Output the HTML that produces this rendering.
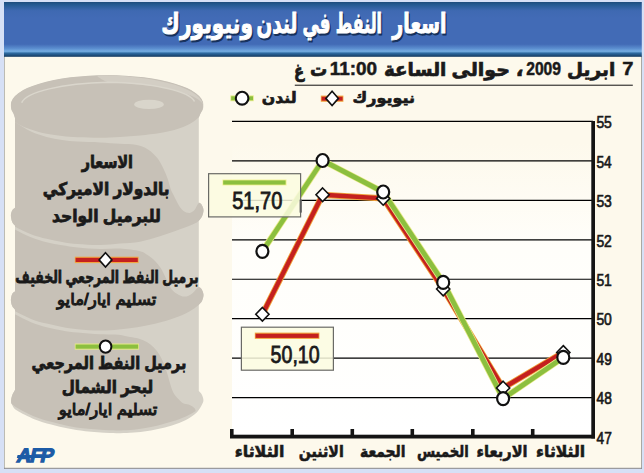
<!DOCTYPE html>
<html lang="ar">
<head>
<meta charset="utf-8">
<title>اسعار النفط في لندن ونيويورك</title>
<style>
html,body{margin:0;padding:0;background:#d6e0f6;}
body{width:644px;height:473px;overflow:hidden;position:relative;}
svg{position:absolute;left:0;top:0;display:block;}
.ar{font-family:"Liberation Sans","DejaVu Sans",sans-serif;font-weight:bold;}
.arn{font-family:"Liberation Sans","DejaVu Sans",sans-serif;font-weight:normal;}
.num{font-family:"Liberation Sans",sans-serif;}
</style>
</head>
<body>
<svg width="644" height="473" viewBox="0 0 644 473">
<defs>
<linearGradient id="hdr" x1="0" y1="0" x2="0" y2="1">
<stop offset="0" stop-color="#1d4c7c"/>
<stop offset="0.05" stop-color="#245a92"/>
<stop offset="0.16" stop-color="#3f69b2"/>
<stop offset="0.3" stop-color="#426bb6"/>
<stop offset="0.77" stop-color="#426bb6"/>
<stop offset="0.85" stop-color="#5c8fd0"/>
<stop offset="0.9" stop-color="#76aee2"/>
<stop offset="0.935" stop-color="#2e6aa0"/>
<stop offset="1" stop-color="#143a60"/>
</linearGradient>
<linearGradient id="plot" x1="0" y1="0" x2="0" y2="1">
<stop offset="0" stop-color="#fdf9ec"/>
<stop offset="0.07" stop-color="#fdf9ec"/>
<stop offset="0.4" stop-color="#fffefa"/>
<stop offset="1" stop-color="#ffffff"/>
</linearGradient>
</defs>
<!-- page -->
<rect x="0" y="0" width="644" height="473" fill="#d6e0f6"/>
<rect x="4" y="56" width="638" height="412.8" fill="#fdf9ec"/>
<rect x="4" y="56" width="0.9" height="412.8" fill="#b4b4ae"/>
<rect x="641.1" y="56" width="0.9" height="412.8" fill="#a0a09c"/>
<rect x="4" y="467.8" width="638" height="1" fill="#85858a"/>
<rect x="4" y="2" width="637.8" height="54.8" fill="url(#hdr)"/>
<!-- SECTION:title -->
<!-- BEGIN:title -->
<text transform="translate(393.50 34.60) scale(0.684 1)" class="ar" font-size="28" fill="#16305a" stroke="#16305a" stroke-width="1.0">اسعار</text>
<text transform="translate(336.95 34.60) scale(0.567 1)" class="ar" font-size="28" fill="#16305a" stroke="#16305a" stroke-width="1.0">النفط</text>
<text transform="translate(303.65 34.60) scale(0.603 1)" class="ar" font-size="28" fill="#16305a" stroke="#16305a" stroke-width="1.0">في</text>
<text transform="translate(257.78 34.60) scale(0.658 1)" class="ar" font-size="28" fill="#16305a" stroke="#16305a" stroke-width="1.0">لندن</text>
<text transform="translate(162.51 34.60) scale(0.724 1)" class="ar" font-size="28" fill="#16305a" stroke="#16305a" stroke-width="1.0">ونيويورك</text>
<text transform="translate(392.30 33.3) scale(0.684 1)" class="ar" font-size="28" fill="#fff" stroke="#fff" stroke-width="1.0">اسعار</text>
<text transform="translate(335.75 33.3) scale(0.567 1)" class="ar" font-size="28" fill="#fff" stroke="#fff" stroke-width="1.0">النفط</text>
<text transform="translate(302.45 33.3) scale(0.603 1)" class="ar" font-size="28" fill="#fff" stroke="#fff" stroke-width="1.0">في</text>
<text transform="translate(256.58 33.3) scale(0.658 1)" class="ar" font-size="28" fill="#fff" stroke="#fff" stroke-width="1.0">لندن</text>
<text transform="translate(161.31 33.3) scale(0.724 1)" class="ar" font-size="28" fill="#fff" stroke="#fff" stroke-width="1.0">ونيويورك</text>
<!-- END:title -->
<!-- SECTION:barrel -->
<g id="barrel">
<clipPath id="bclip"><path d="M10.9,104.4 A96.2,29.3 0 0 1 203.3,104.4 C203.2,105.2 203.5,107.5 203.0,109.0 C202.5,110.5 201.2,112.0 200.5,113.5 C199.8,115.0 199.1,117.2 198.8,118.0 L198.8,202.5 C199.2,202.8 200.7,203.2 201.5,204.5 C202.3,205.8 203.4,208.0 203.5,210.0 C203.6,212.0 202.8,214.7 202.0,216.5 C201.2,218.3 199.3,220.2 198.8,221.0 L198.8,287.0 C199.2,287.3 200.7,287.7 201.5,289.0 C202.3,290.3 203.4,292.7 203.5,294.7 C203.6,296.7 202.8,299.3 202.0,301.0 C201.2,302.7 199.3,304.3 198.8,305.0 L198.8,391.0 C199.2,391.5 200.7,392.6 201.5,394.0 C202.3,395.4 203.3,397.9 203.4,399.7 C203.5,401.5 203.1,402.5 202.0,404.6 C200.9,406.7 199.7,409.6 197.0,412.2 C194.3,414.8 190.1,417.8 185.9,420.0 C181.7,422.2 176.6,424.0 171.9,425.5 C167.2,427.0 162.7,428.0 158.0,429.0 C153.3,430.0 148.7,430.9 144.0,431.5 C139.3,432.1 135.7,432.5 130.0,432.8 C124.3,433.1 117.4,433.4 110.0,433.1 C102.6,432.8 92.4,431.9 85.4,431.2 C78.5,430.4 74.0,429.7 68.3,428.6 C62.6,427.5 56.9,426.2 51.2,424.6 C45.5,423.0 39.9,421.5 34.2,419.2 C28.5,416.9 20.7,413.0 17.0,410.6 C13.3,408.2 13.2,406.7 12.2,405.0 C11.2,403.3 11.0,402.1 11.1,400.4 C11.2,398.6 11.8,396.2 12.5,394.5 C13.2,392.8 14.6,390.8 15.0,390.0 L15.0,309.5 C14.5,308.9 12.9,307.6 12.2,306.0 C11.5,304.4 10.9,302.0 10.9,300.0 C10.9,298.0 11.5,295.4 12.2,294.0 C12.9,292.6 14.5,291.9 15.0,291.5 L15.0,225.6 C14.5,225.0 12.9,223.7 12.2,222.0 C11.5,220.3 10.9,217.4 10.9,215.5 C10.9,213.6 11.5,211.8 12.2,210.5 C12.9,209.2 14.5,208.2 15.0,207.8 L15.0,118.0 C14.8,117.2 14.1,115.0 13.5,113.5 C12.9,112.0 11.6,110.5 11.2,109.0 C10.8,107.5 10.9,105.2 10.9,104.4 Z"/></clipPath>
<path d="M10.9,104.4 A96.2,29.3 0 0 1 203.3,104.4 C203.2,105.2 203.5,107.5 203.0,109.0 C202.5,110.5 201.2,112.0 200.5,113.5 C199.8,115.0 199.1,117.2 198.8,118.0 L198.8,202.5 C199.2,202.8 200.7,203.2 201.5,204.5 C202.3,205.8 203.4,208.0 203.5,210.0 C203.6,212.0 202.8,214.7 202.0,216.5 C201.2,218.3 199.3,220.2 198.8,221.0 L198.8,287.0 C199.2,287.3 200.7,287.7 201.5,289.0 C202.3,290.3 203.4,292.7 203.5,294.7 C203.6,296.7 202.8,299.3 202.0,301.0 C201.2,302.7 199.3,304.3 198.8,305.0 L198.8,391.0 C199.2,391.5 200.7,392.6 201.5,394.0 C202.3,395.4 203.3,397.9 203.4,399.7 C203.5,401.5 203.1,402.5 202.0,404.6 C200.9,406.7 199.7,409.6 197.0,412.2 C194.3,414.8 190.1,417.8 185.9,420.0 C181.7,422.2 176.6,424.0 171.9,425.5 C167.2,427.0 162.7,428.0 158.0,429.0 C153.3,430.0 148.7,430.9 144.0,431.5 C139.3,432.1 135.7,432.5 130.0,432.8 C124.3,433.1 117.4,433.4 110.0,433.1 C102.6,432.8 92.4,431.9 85.4,431.2 C78.5,430.4 74.0,429.7 68.3,428.6 C62.6,427.5 56.9,426.2 51.2,424.6 C45.5,423.0 39.9,421.5 34.2,419.2 C28.5,416.9 20.7,413.0 17.0,410.6 C13.3,408.2 13.2,406.7 12.2,405.0 C11.2,403.3 11.0,402.1 11.1,400.4 C11.2,398.6 11.8,396.2 12.5,394.5 C13.2,392.8 14.6,390.8 15.0,390.0 L15.0,309.5 C14.5,308.9 12.9,307.6 12.2,306.0 C11.5,304.4 10.9,302.0 10.9,300.0 C10.9,298.0 11.5,295.4 12.2,294.0 C12.9,292.6 14.5,291.9 15.0,291.5 L15.0,225.6 C14.5,225.0 12.9,223.7 12.2,222.0 C11.5,220.3 10.9,217.4 10.9,215.5 C10.9,213.6 11.5,211.8 12.2,210.5 C12.9,209.2 14.5,208.2 15.0,207.8 L15.0,118.0 C14.8,117.2 14.1,115.0 13.5,113.5 C12.9,112.0 11.6,110.5 11.2,109.0 C10.8,107.5 10.9,105.2 10.9,104.4 Z" fill="#d5d1c7"/>
<g clip-path="url(#bclip)">
<path d="M10.9,104.4 A96.2,29.3 0 0 1 203.3,104.4 C203.2,105.3 203.1,108.2 202.5,110.0 C201.9,111.8 201.1,113.8 200.0,115.5 C198.9,117.2 198.0,118.3 195.7,120.0 C193.4,121.7 189.6,124.1 186.0,125.8 C182.4,127.5 178.6,128.8 174.3,130.0 C170.0,131.2 165.7,132.1 160.0,133.0 C154.3,133.9 146.7,134.9 140.0,135.6 C133.3,136.3 126.7,136.7 120.0,137.0 C113.3,137.3 107.1,137.7 100.0,137.7 C92.9,137.7 83.9,137.5 77.6,137.2 C71.3,136.9 67.3,136.7 62.1,136.1 C56.9,135.5 51.8,134.9 46.6,133.8 C41.4,132.7 36.2,131.4 31.0,129.5 C25.8,127.6 18.7,125.0 15.5,122.2 C12.3,119.5 12.6,116.0 11.8,113.0 C11.0,110.0 11.1,105.8 10.9,104.4 Z" fill="#c7c1b7"/>
<path d="M96,75.1 C150,75.5 198,86 203.3,104.4 C196,92.5 156,84 108,82.3 C104,81 99,78 96,75.1 Z" fill="#d3cec4"/>
<path d="M21.7,102.8 C26,92 62,83.3 108,82.3 C156,83 190,91.5 194.5,101.5" fill="none" stroke="#dad6cc" stroke-width="1.5"/>
<ellipse cx="149" cy="104.4" rx="14.8" ry="4.7" fill="#d9d5cb"/>
<path d="M5.0,115.0 C6.8,116.2 11.2,119.5 15.5,122.2 C19.8,125.0 25.8,129.1 31.0,131.5 C36.2,133.9 41.4,135.5 46.6,136.9 C51.8,138.3 56.9,139.2 62.1,140.0 C67.3,140.8 71.3,141.2 77.6,141.6 C83.9,142.0 92.9,142.1 100.0,142.4 C107.1,142.8 114.1,143.3 120.0,143.7 C125.9,144.1 130.8,143.9 135.5,144.8 C140.2,145.8 144.4,147.2 148.0,149.4 C151.6,151.6 154.7,154.8 157.3,158.0 C159.9,161.2 161.7,165.2 163.5,168.8 C165.3,172.4 166.8,176.2 168.0,179.7 C169.2,183.2 170.0,187.4 171.0,190.0 C172.0,192.6 172.6,193.0 173.8,195.5 C175.1,198.0 176.9,202.2 178.5,204.8 C180.1,207.4 181.6,209.7 183.5,211.0 C185.4,212.3 187.8,213.1 189.7,212.9 C191.6,212.7 193.2,211.4 194.7,209.8 C196.2,208.2 196.7,204.8 198.6,203.2 C200.5,201.6 204.8,200.5 206.0,200.0 L206,216 C204.8,216.8 200.5,219.8 198.6,221.0 C196.7,222.2 197.8,222.1 194.7,223.5 C191.6,224.9 185.8,227.2 180.0,229.3 C174.2,231.4 166.7,234.2 160.0,236.3 C153.3,238.4 146.7,240.5 140.0,241.7 C133.3,242.9 126.7,243.0 120.0,243.6 C113.3,244.2 107.1,244.9 100.0,245.0 C92.9,245.1 83.9,244.5 77.6,244.0 C71.3,243.5 67.3,242.8 62.1,241.9 C56.9,241.0 51.8,240.1 46.6,238.8 C41.4,237.5 36.3,236.3 31.0,234.2 C25.7,232.1 19.1,228.8 14.8,226.4 C10.4,224.0 6.6,221.1 5.0,220.0 Z" fill="#c7c1b7"/>
<path d="M5.0,224.0 C6.6,224.9 10.4,227.3 14.8,229.5 C19.1,231.7 25.7,235.2 31.0,237.3 C36.3,239.4 41.4,240.9 46.6,242.2 C51.8,243.5 56.9,244.4 62.1,245.3 C67.3,246.2 71.3,246.8 77.6,247.4 C83.9,248.0 92.9,248.7 100.0,248.9 C107.1,249.1 113.3,248.2 120.0,248.6 C126.7,249.0 135.4,250.1 140.0,251.2 C144.6,252.3 145.0,253.4 147.5,255.0 C150.0,256.6 152.8,258.7 155.0,261.0 C157.2,263.3 159.2,265.7 161.0,268.6 C162.8,271.5 164.3,275.2 166.0,278.5 C167.7,281.8 169.1,285.9 171.0,288.5 C172.9,291.1 175.0,292.6 177.3,294.0 C179.6,295.4 182.2,296.7 184.7,296.6 C187.2,296.5 189.9,295.0 192.2,293.4 C194.5,291.8 196.1,288.8 198.4,287.2 C200.7,285.6 204.7,284.5 206.0,284.0 L206,300 C204.8,300.8 201.6,303.0 198.8,304.9 C196.0,306.8 193.5,309.2 189.4,311.4 C185.3,313.6 180.1,316.0 174.5,318.0 C168.9,320.0 162.2,321.9 156.0,323.5 C149.8,325.1 143.5,326.3 137.3,327.3 C131.1,328.3 124.8,328.9 118.6,329.5 C112.4,330.1 106.8,330.7 100.0,330.6 C93.2,330.6 83.9,329.8 77.6,329.2 C71.3,328.6 67.3,327.8 62.1,326.9 C56.9,326.0 51.8,324.9 46.6,323.6 C41.4,322.3 36.3,321.0 31.0,318.9 C25.7,316.8 19.1,313.3 14.8,311.0 C10.4,308.7 6.6,306.0 5.0,305.0 Z" fill="#c7c1b7"/>
<path d="M5.0,309.0 C6.6,309.9 10.4,312.1 14.8,314.3 C19.1,316.5 25.7,320.1 31.0,322.2 C36.3,324.3 41.4,325.8 46.6,327.2 C51.8,328.6 56.9,329.5 62.1,330.4 C67.3,331.3 71.3,332.0 77.6,332.6 C83.9,333.2 93.2,334.0 100.0,334.3 C106.8,334.6 113.6,334.2 118.6,334.7 C123.6,335.2 126.7,336.5 130.0,337.1 C133.3,337.7 135.6,337.7 138.4,338.5 C141.2,339.3 144.2,340.5 146.8,342.0 C149.4,343.5 151.7,345.5 153.8,347.6 C155.9,349.7 157.7,352.0 159.3,354.6 C160.9,357.2 162.2,360.0 163.5,363.0 C164.8,366.0 165.9,369.4 167.0,372.7 C168.1,375.9 168.9,379.5 169.8,382.5 C170.7,385.5 171.6,388.6 172.6,390.9 C173.6,393.2 175.0,395.1 176.1,396.5 C177.2,397.9 177.7,398.4 178.9,399.5 C180.1,400.6 181.5,402.3 183.1,403.2 C184.7,404.1 186.8,403.8 188.7,404.6 C190.6,405.4 193.1,406.9 194.3,408.0 C195.5,409.1 195.5,410.4 195.7,410.9 C194.1,411.8 189.9,414.6 185.9,416.4 C181.9,418.2 176.6,420.1 171.9,421.6 C167.2,423.1 162.7,424.4 158.0,425.5 C153.3,426.6 148.7,427.6 144.0,428.3 C139.3,429.1 135.7,429.7 130.0,430.0 C124.3,430.3 117.4,430.6 110.0,430.3 C102.6,430.0 92.4,429.1 85.4,428.4 C78.5,427.7 74.0,427.0 68.3,425.9 C62.6,424.8 56.9,423.4 51.2,421.8 C45.5,420.2 39.9,418.7 34.2,416.4 C28.5,414.1 21.9,410.9 17.0,407.8 C12.1,404.7 7.0,399.6 5.0,398.0 Z" fill="#c7c1b7"/>
</g>
</g>
<!-- SECTION:barreltext -->
<!-- BEGIN:barreltext -->
<rect x="74.8" y="256.7" width="63.8" height="6.4" fill="#f2a640"/><rect x="75.6" y="257.8" width="62.2" height="4.2" fill="#c4201f"/>
<path d="M105.5 252.7 l6.4 7.2 l-6.4 7.2 l-6.4 -7.2 z" fill="#fff" stroke="#111" stroke-width="1.6"/>
<rect x="74.8" y="343.5" width="64.2" height="6.2" fill="#e6ea88"/><rect x="75.6" y="344.5" width="62.6" height="4.2" fill="#8cbf3f"/>
<ellipse cx="105.6" cy="346.6" rx="5.8" ry="6.2" fill="#fff" stroke="#111" stroke-width="2"/>
<text transform="translate(81.72 167.5) scale(0.817 1)" class="ar" font-size="17.5" fill="#1a1a1a" stroke="#1a1a1a" stroke-width="0.8">الاسعار</text>
<text transform="translate(42.74 195.2) scale(0.878 1)" class="ar" font-size="17.5" fill="#1a1a1a" stroke="#1a1a1a" stroke-width="0.8">بالدولار الاميركي</text>
<text transform="translate(52.03 221.7) scale(0.889 1)" class="ar" font-size="17.5" fill="#1a1a1a" stroke="#1a1a1a" stroke-width="0.8">للبرميل الواحد</text>
<text transform="translate(15.37 282.7) scale(0.711 1)" class="ar" font-size="17.5" fill="#1a1a1a" stroke="#1a1a1a" stroke-width="0.8">برميل النفط المرجعي الخفيف</text>
<text transform="translate(57.06 305.0) scale(1.009 1)" class="arn" font-size="16.4" fill="#1a1a1a" stroke="#1a1a1a" stroke-width="1.1">تسليم ايار/مايو</text>
<text transform="translate(31.58 369.3) scale(0.828 1)" class="ar" font-size="17.5" fill="#1a1a1a" stroke="#1a1a1a" stroke-width="0.8">برميل النفط المرجعي</text>
<text transform="translate(61.65 392.6) scale(0.865 1)" class="ar" font-size="17.5" fill="#1a1a1a" stroke="#1a1a1a" stroke-width="0.8">لبحر الشمال</text>
<text transform="translate(58.75 415.0) scale(1.003 1)" class="arn" font-size="16.4" fill="#1a1a1a" stroke="#1a1a1a" stroke-width="1.1">تسليم ايار/مايو</text>
<g id="afp"><text transform="translate(16.0 462.2) skewX(-13) scale(1.0 1)" font-family='"Liberation Sans",sans-serif' font-weight="bold" font-size="19.5" letter-spacing="-1.2" fill="#1c5ba6" stroke="#1c5ba6" stroke-width="1.3" stroke-linejoin="miter">AFP</text><path d="M17.6 455.0 L47.5 455.0 L46.8 458.1 L16.8 458.1 Z" fill="#1c5ba6"/></g>
<!-- END:barreltext -->
<!-- SECTION:chart -->
<g id="chart">
<rect x="232" y="121" width="361" height="316" fill="url(#plot)"/>
<line x1="232" x2="593" y1="397.6" y2="397.6" stroke="#000" stroke-width="1.15"/>
<line x1="232" x2="593" y1="358.1" y2="358.1" stroke="#000" stroke-width="1.15"/>
<line x1="232" x2="593" y1="318.6" y2="318.6" stroke="#000" stroke-width="1.15"/>
<line x1="232" x2="593" y1="279.2" y2="279.2" stroke="#000" stroke-width="1.15"/>
<line x1="232" x2="593" y1="239.8" y2="239.8" stroke="#000" stroke-width="1.15"/>
<line x1="232" x2="593" y1="200.3" y2="200.3" stroke="#000" stroke-width="1.15"/>
<line x1="232" x2="593" y1="160.8" y2="160.8" stroke="#000" stroke-width="1.15"/>
<line x1="232" x2="593" y1="121.4" y2="121.4" stroke="#000" stroke-width="1.15"/>
<polyline points="262.4,314.3 322.6,194.8 383.2,198.4 443.2,289.0 503.1,388.0 563.3,352.4" fill="none" stroke="#f0a23a" stroke-width="6.2" stroke-linejoin="round"/>
<polyline points="262.4,314.3 322.6,194.8 383.2,198.4 443.2,289.0 503.1,388.0 563.3,352.4" fill="none" stroke="#c4201f" stroke-width="4.4" stroke-linejoin="round"/>
<polyline points="262.4,251.3 322.6,160.5 383.2,192.0 443.2,282.4 503.1,398.6 563.3,357.4" fill="none" stroke="#e9ea8a" stroke-width="6.4" stroke-linejoin="round"/>
<polyline points="262.4,251.3 322.6,160.5 383.2,192.0 443.2,282.4 503.1,398.6 563.3,357.4" fill="none" stroke="#8cbf3f" stroke-width="4.8" stroke-linejoin="round"/>
<rect x="591.3" y="121" width="3.7" height="317.5" fill="#141414"/>
<rect x="230" y="434.7" width="365" height="3.8" fill="#141414"/>
<rect x="230.0" y="429" width="3.6" height="7" fill="#141414"/>
<rect x="290.4" y="429" width="3.6" height="7" fill="#141414"/>
<rect x="350.5" y="429" width="3.6" height="7" fill="#141414"/>
<rect x="410.5" y="429" width="3.6" height="7" fill="#141414"/>
<rect x="471.0" y="429" width="3.6" height="7" fill="#141414"/>
<rect x="530.9" y="429" width="3.6" height="7" fill="#141414"/>
<path d="M262.4 307.5 l6.6 6.8 l-6.6 6.8 l-6.6 -6.8 z" fill="#fff" stroke="#111" stroke-width="1.6" stroke-linejoin="miter"/>
<path d="M322.6 188.0 l6.6 6.8 l-6.6 6.8 l-6.6 -6.8 z" fill="#fff" stroke="#111" stroke-width="1.6" stroke-linejoin="miter"/>
<path d="M383.2 191.6 l6.6 6.8 l-6.6 6.8 l-6.6 -6.8 z" fill="#fff" stroke="#111" stroke-width="1.6" stroke-linejoin="miter"/>
<path d="M443.2 282.2 l6.6 6.8 l-6.6 6.8 l-6.6 -6.8 z" fill="#fff" stroke="#111" stroke-width="1.6" stroke-linejoin="miter"/>
<path d="M503.1 381.2 l6.6 6.8 l-6.6 6.8 l-6.6 -6.8 z" fill="#fff" stroke="#111" stroke-width="1.6" stroke-linejoin="miter"/>
<path d="M563.3 345.6 l6.6 6.8 l-6.6 6.8 l-6.6 -6.8 z" fill="#fff" stroke="#111" stroke-width="1.6" stroke-linejoin="miter"/>
<ellipse cx="262.4" cy="251.3" rx="6" ry="6.5" fill="#fff" stroke="#111" stroke-width="2.2"/>
<ellipse cx="322.6" cy="160.5" rx="6" ry="6.5" fill="#fff" stroke="#111" stroke-width="2.2"/>
<ellipse cx="383.2" cy="192.0" rx="6" ry="6.5" fill="#fff" stroke="#111" stroke-width="2.2"/>
<ellipse cx="443.2" cy="282.4" rx="6" ry="6.5" fill="#fff" stroke="#111" stroke-width="2.2"/>
<ellipse cx="503.1" cy="398.6" rx="6" ry="6.5" fill="#fff" stroke="#111" stroke-width="2.2"/>
<ellipse cx="563.3" cy="357.4" rx="6" ry="6.5" fill="#fff" stroke="#111" stroke-width="2.2"/>
<rect x="208.6" y="173.7" width="92" height="43.2" fill="#fcfce0" fill-opacity="0.86" stroke="#6a6a66" stroke-width="1.2"/>
<rect x="299.6" y="199.6" width="2.2" height="13" fill="#5c5c5c"/>
<rect x="222.5" y="179.6" width="64" height="5.8" fill="#f0f08c"/>
<rect x="223.2" y="180.4" width="62.4" height="4.2" fill="#8cbf3f"/>
<rect x="241.4" y="327.2" width="92" height="43" fill="#fcfce0" fill-opacity="0.86" stroke="#6a6a66" stroke-width="1.2"/>
<rect x="254.8" y="332.6" width="64.6" height="6.3" fill="#f2a640"/>
<rect x="255.6" y="333.7" width="63" height="4.2" fill="#c4201f"/>
</g>
<!-- SECTION:charttext -->
<!-- BEGIN:charttext -->
<rect x="294.8" y="84.7" width="338" height="1" fill="#111"/>
<text transform="translate(622.16 75.3) scale(1.081 1)" class="num" font-size="18.6" font-weight="bold" fill="#1a1a1a" stroke="#1a1a1a" stroke-width="0.5">7</text>
<text transform="translate(567.12 75.5) scale(0.982 1)" class="ar" font-size="18.8" fill="#1a1a1a" stroke="#1a1a1a" stroke-width="0.7">ابريل</text>
<text transform="translate(526.18 75.3) scale(0.842 1)" class="num" font-size="18.6" font-weight="bold" fill="#1a1a1a" stroke="#1a1a1a" stroke-width="0.5">2009</text>
<text transform="translate(515.68 76.0) scale(1.080 1)" class="ar" font-size="18.8" fill="#1a1a1a" stroke="#1a1a1a" stroke-width="0.7">،</text>
<text transform="translate(451.44 75.5) scale(1.013 1)" class="ar" font-size="18.8" fill="#1a1a1a" stroke="#1a1a1a" stroke-width="0.7">حوالى</text>
<text transform="translate(383.97 75.5) scale(0.976 1)" class="ar" font-size="18.8" fill="#1a1a1a" stroke="#1a1a1a" stroke-width="0.7">الساعة</text>
<text transform="translate(329.78 75.3) scale(1.018 1)" class="num" font-size="18.6" font-weight="bold" fill="#1a1a1a" stroke="#1a1a1a" stroke-width="0.5">11:00</text>
<text transform="translate(309.92 75.5) scale(0.912 1)" class="ar" font-size="18.8" fill="#1a1a1a" stroke="#1a1a1a" stroke-width="0.7">ت</text>
<text transform="translate(294.11 77.0) scale(0.792 1)" class="ar" font-size="18.8" fill="#1a1a1a" stroke="#1a1a1a" stroke-width="0.7">غ</text>
<rect x="230.4" y="95.4" width="23.4" height="5.8" fill="#e6ea88"/><rect x="231.2" y="96.3" width="21.8" height="4.0" fill="#8cbf3f"/>
<ellipse cx="242.1" cy="98.2" rx="6.3" ry="6.4" fill="#fff" stroke="#111" stroke-width="2.1"/>
<rect x="320.8" y="95.6" width="22.6" height="6.2" fill="#f2a640"/><rect x="321.6" y="96.7" width="21" height="4.0" fill="#c4201f"/>
<path d="M332.1 91.2 l6.3 7.2 l-6.3 7.2 l-6.3 -7.2 z" fill="#fff" stroke="#111" stroke-width="1.6"/>
<text transform="translate(261.78 102.9) scale(1.036 1)" class="ar" font-size="15.2" fill="#1a1a1a" stroke="#1a1a1a" stroke-width="0.7">لندن</text>
<text transform="translate(352.61 102.7) scale(1.051 1)" class="ar" font-size="15.2" fill="#1a1a1a" stroke="#1a1a1a" stroke-width="0.7">نيويورك</text>
<text transform="translate(234.63 456.8) scale(0.966 1)" class="ar" font-size="16.4" fill="#1a1a1a" stroke="#1a1a1a" stroke-width="0.6">الثلاثاء</text>
<text transform="translate(298.65 456.8) scale(0.866 1)" class="ar" font-size="16.4" fill="#1a1a1a" stroke="#1a1a1a" stroke-width="0.6">الاثنين</text>
<text transform="translate(359.96 456.8) scale(0.848 1)" class="ar" font-size="16.4" fill="#1a1a1a" stroke="#1a1a1a" stroke-width="0.6">الجمعة</text>
<text transform="translate(416.90 456.8) scale(0.805 1)" class="ar" font-size="16.4" fill="#1a1a1a" stroke="#1a1a1a" stroke-width="0.6">الخميس</text>
<text transform="translate(476.51 456.8) scale(0.893 1)" class="ar" font-size="16.4" fill="#1a1a1a" stroke="#1a1a1a" stroke-width="0.6">الاربعاء</text>
<text transform="translate(536.05 456.8) scale(0.952 1)" class="ar" font-size="16.4" fill="#1a1a1a" stroke="#1a1a1a" stroke-width="0.6">الثلاثاء</text>
<text transform="translate(232.17 209.3) scale(0.861 1)" class="num" font-size="23.3" fill="#1a1a1a" stroke="#1a1a1a" stroke-width="0.8">51,70</text>
<text transform="translate(270.58 363.0) scale(0.842 1)" class="num" font-size="23.3" fill="#1a1a1a" stroke="#1a1a1a" stroke-width="0.8">50,10</text>
<text transform="translate(596.39 128.1) scale(0.828 1)" class="num" font-size="16.8" fill="#1a1a1a" stroke="#1a1a1a" stroke-width="0.7">55</text>
<text transform="translate(596.40 167.6) scale(0.816 1)" class="num" font-size="16.8" fill="#1a1a1a" stroke="#1a1a1a" stroke-width="0.7">54</text>
<text transform="translate(596.39 207.0) scale(0.828 1)" class="num" font-size="16.8" fill="#1a1a1a" stroke="#1a1a1a" stroke-width="0.7">53</text>
<text transform="translate(596.39 246.5) scale(0.828 1)" class="num" font-size="16.8" fill="#1a1a1a" stroke="#1a1a1a" stroke-width="0.7">52</text>
<text transform="translate(596.39 285.9) scale(0.828 1)" class="num" font-size="16.8" fill="#1a1a1a" stroke="#1a1a1a" stroke-width="0.7">51</text>
<text transform="translate(596.39 325.3) scale(0.828 1)" class="num" font-size="16.8" fill="#1a1a1a" stroke="#1a1a1a" stroke-width="0.7">50</text>
<text transform="translate(596.60 364.8) scale(0.816 1)" class="num" font-size="16.8" fill="#1a1a1a" stroke="#1a1a1a" stroke-width="0.7">49</text>
<text transform="translate(596.60 404.3) scale(0.816 1)" class="num" font-size="16.8" fill="#1a1a1a" stroke="#1a1a1a" stroke-width="0.7">48</text>
<text transform="translate(596.60 443.7) scale(0.816 1)" class="num" font-size="16.8" fill="#1a1a1a" stroke="#1a1a1a" stroke-width="0.7">47</text>
<!-- END:charttext -->
</svg>
</body>
</html>
